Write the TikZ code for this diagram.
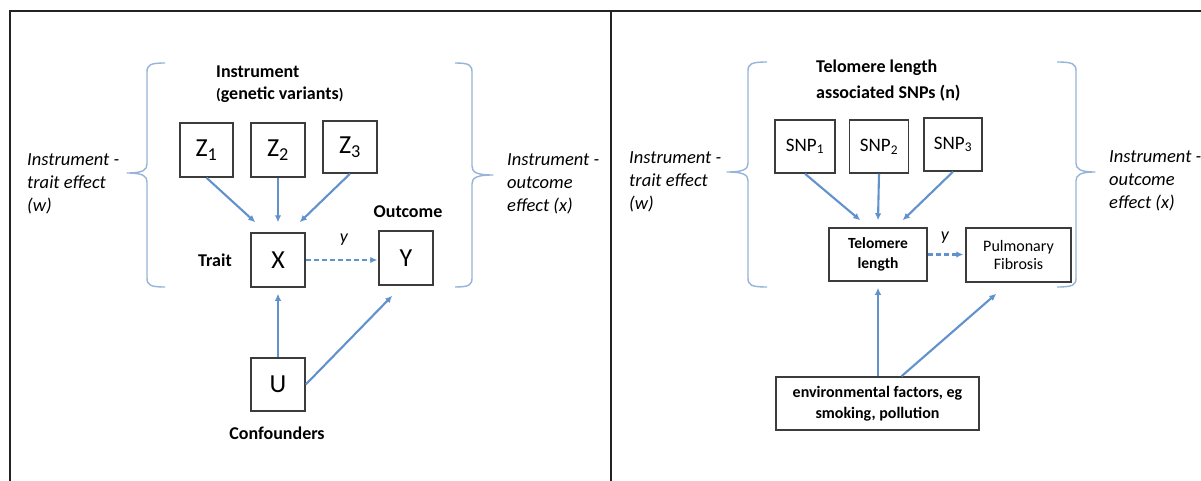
\documentclass[tikz,border=0pt]{standalone}
\usepackage{fontspec}
\setmainfont{Carlito}
\usetikzlibrary{arrows.meta}
\definecolor{arrblue}{RGB}{98,146,205}
\definecolor{braceblue}{RGB}{150,180,218}
\definecolor{boxgray}{RGB}{60,60,60}
\definecolor{framegray}{RGB}{35,35,35}
\begin{document}
\begin{tikzpicture}[x=1pt,y=-1pt,
  box/.style={draw=boxgray, line width=1.5pt, fill=white, inner sep=0pt, align=center},
  bigtxt/.style={font=\fontsize{26}{30}\selectfont},
  snptxt/.style={font=\fontsize{19}{22}\selectfont},
  arr/.style={draw=arrblue, line width=2.1pt, -{Latex[length=7pt,width=6.5pt]}},
  dasharr/.style={arr, dash pattern=on 5pt off 3pt},
  brace/.style={draw=braceblue, line width=1.4pt, line join=round},
  lbl/.style={font=\fontsize{18}{22}\selectfont\bfseries, inner sep=0pt},
  side/.style={font=\fontsize{18.5}{23}\selectfont\itshape, align=left, inner sep=0pt, anchor=west},
  frameline/.style={draw=framegray, line width=2pt},
]
\useasboundingbox (0,0) rectangle (1201,481);
\fill[white] (0,0) rectangle (1201,481);

% frame
\draw[frameline] (10,481) -- (10,11) -- (1201,11);
\draw[frameline] (611,11) -- (611,481);

% ===== left panel =====
\draw[brace] (165,63) .. controls (150,63) and (147,65) .. (147,72) -- (147,164)
  .. controls (147,170) and (143,173) .. (127,173)
  .. controls (143,173) and (147,176) .. (147,182) -- (147,278)
  .. controls (147,285) and (150,287) .. (165,287);
\draw[brace] (455,63) .. controls (469,63) and (472,65) .. (472,72) -- (472,166)
  .. controls (472,172) and (476,175) .. (493,175)
  .. controls (476,175) and (472,178) .. (472,184) -- (472,278)
  .. controls (472,285) and (469,287) .. (455,287);

\node[side] (ltl) at (27,184) {Instrument -\\trait effect\\(w)};
\node[side] (ltr) at (507,184) {Instrument -\\outcome\\effect (x)};

\node[lbl, anchor=west] (instr) at (216,72) {Instrument};
\node[lbl, anchor=west] (genvar) at (216,95) {{\fontsize{15}{18}\selectfont(}genetic variants{\fontsize{15}{18}\selectfont)}};

\node[box, bigtxt, minimum width=53pt, minimum height=54pt] (Z1) at (206.5,150) {Z\textsubscript{1}};
\node[box, bigtxt, minimum width=54pt, minimum height=54pt] (Z2) at (278,150) {Z\textsubscript{2}};
\node[box, bigtxt, minimum width=54pt, minimum height=52pt] (Z3) at (350,147) {Z\textsubscript{3}};
\node[box, bigtxt, minimum width=54pt, minimum height=54pt] (X) at (278,260) {X};
\node[box, bigtxt, minimum width=54pt, minimum height=54pt] (Y) at (406,258) {Y};
\node[box, bigtxt, minimum width=54pt, minimum height=53pt] (U) at (278,384.5) {U};

\node[lbl] (trait) at (215,260) {Trait};
\node[lbl] (outcome) at (408,212) {Outcome};
\node[lbl] (conf) at (277,433) {Confounders};
\node[font=\fontsize{18}{20}\selectfont\itshape, inner sep=0pt] (ylab1) at (344,240) {y};

\draw[arr] (Z1.south) -- ([shift={(5,-10)}]X.north west);
\draw[arr] (Z2.south) -- ([shift={(0,-10)}]X.north);
\draw[arr] (Z3.south) -- ([shift={(-6,-10)}]X.north east);
\draw[dasharr, shorten >=1pt] (X.east) -- (X.east -| Y.west);
\draw[arr] (U.north) -- ([shift={(0,6)}]X.south);
\draw[arr] (U.east) -- ([shift={(14,10)}]Y.south west);

% ===== right panel =====
\draw[brace] (767,62) .. controls (751,62) and (748,64) .. (748,71) -- (748,163)
  .. controls (748,169) and (744,172) .. (727,172)
  .. controls (744,172) and (748,175) .. (748,181) -- (748,278)
  .. controls (748,285) and (751,287) .. (767,287);
\draw[brace] (1057,62) .. controls (1073,62) and (1076,64) .. (1076,71) -- (1076,163)
  .. controls (1076,169) and (1080,172) .. (1095,172)
  .. controls (1080,172) and (1076,175) .. (1076,181) -- (1076,278)
  .. controls (1076,285) and (1073,287) .. (1057,287);

\node[side] (rtl) at (629,182) {Instrument -\\trait effect\\(w)};
\node[side] (rtr) at (1109,181) {Instrument -\\outcome\\effect (x)};

\node[lbl, anchor=west] (tl1) at (816,68) {Telomere length};
\node[lbl, anchor=west] (tl2) at (816,93) {associated SNPs (n)};

\node[box, snptxt, minimum width=60pt, minimum height=53pt] (S1) at (805,146.5) {SNP\textsubscript{1}};
\node[box, snptxt, minimum width=59pt, minimum height=53pt] (S2) at (879,146.5) {SNP\textsubscript{2}};
\node[box, snptxt, minimum width=58pt, minimum height=53pt] (S3) at (953,144.5) {SNP\textsubscript{3}};
\node[box, font=\fontsize{15.5}{20}\selectfont\bfseries, minimum width=98pt, minimum height=53pt] (Tel) at (878,254.5) {Telomere\\length};
\node[box, font=\fontsize{16}{18.5}\selectfont, minimum width=105pt, minimum height=54pt] (Pul) at (1018.5,255) {Pulmonary\\Fibrosis};
\node[box, font=\fontsize{16}{21}\selectfont\bfseries, minimum width=203pt, minimum height=53pt] (Env) at (877.5,403.5) {environmental factors, eg\\smoking, pollution};
\node[font=\fontsize{18}{20}\selectfont\itshape, inner sep=0pt] (ylab2) at (945,238) {y};

\draw[arr] (S1.south) -- ([shift={(32,-7)}]Tel.north west);
\draw[arr] (S2.south) -- ([shift={(0,-7)}]Tel.north);
\draw[arr] (S3.south) -- ([shift={(-25,-7)}]Tel.north east);
\draw[dasharr, shorten >=2pt] (Tel.east) -- (Tel.east -| Pul.west);
\draw[arr] (Env.north -| Tel.south) -- ([shift={(0,6)}]Tel.south);
\draw[arr] ([shift={(24,0)}]Env.north) -- ([shift={(31,11)}]Pul.south west);
\end{tikzpicture}
\end{document}
